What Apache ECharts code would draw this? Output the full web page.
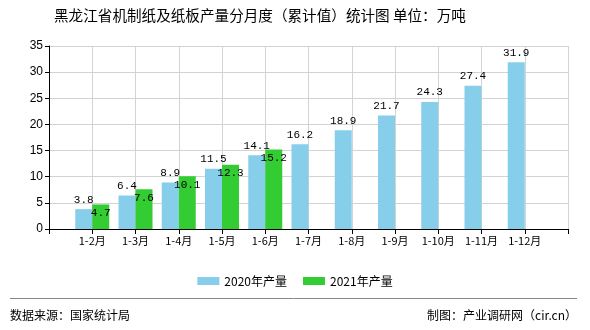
<!DOCTYPE html>
<html><head><meta charset="utf-8">
<script src="https://cdn.jsdelivr.net/npm/echarts@6/dist/echarts.min.js"></script>
<style>html,body{margin:0;padding:0;background:#fff}#c{width:590px;height:330px}</style>
</head><body><div id="c"></div>
<script>
var categories = ['', '1-2月', '1-3月', '1-4月', '1-5月', '1-6月', '1-7月', '1-8月', '1-9月', '1-10月', '1-11月', '1-12月', ''];
var values2020 = ['-', 3.8, 6.4, 8.9, 11.5, 14.1, 16.2, 18.9, 21.7, 24.3, 27.4, 31.9, '-'];
var values2021 = ['-', 4.7, 7.6, 10.1, 12.3, 15.2, '-', '-', '-', '-', '-', '-', '-'];
var seriesNames = ['2020年产量', '2021年产量'];
var titleText = '黑龙江省机制纸及纸板产量分月度（累计值）统计图 单位：万吨';
var sourceText = '数据来源：国家统计局';
var creditText = '制图：产业调研网（cir.cn）';

var chart = echarts.init(document.getElementById('c'), null, {renderer: 'canvas'});
var cjk = '"Noto Sans CJK SC", sans-serif';
var mono = '"Liberation Mono", monospace';
chart.setOption({
  animation: false,
  backgroundColor: '#fff',
  title: {text: titleText, left: 54, top: 8, padding: 0,
    textStyle: {fontFamily: cjk, fontSize: 14.6, fontWeight: 'normal', color: '#000'}},
  legend: {data: seriesNames, top: 270, left: 'center', itemWidth: 22, itemHeight: 8, itemGap: 16,
    icon: 'rect', textStyle: {fontFamily: cjk, fontSize: 12, color: '#000'}},
  grid: {left: 49, right: 22, top: 46, bottom: 101, containLabel: false},
  xAxis: {type: 'category', data: categories, boundaryGap: false,
    axisLine: {lineStyle: {color: '#000', width: 1}},
    axisTick: {show: true, length: 5, lineStyle: {color: '#000'}},
    axisLabel: {fontFamily: cjk, fontSize: 11, color: '#000', margin: 6, interval: 0},
    splitLine: {show: true, lineStyle: {color: '#d3d3d3'}}},
  yAxis: {type: 'value', min: 0, max: 35, interval: 5,
    axisLine: {show: true, lineStyle: {color: '#000'}},
    axisTick: {show: true, length: 4, lineStyle: {color: '#000'}},
    axisLabel: {fontFamily: '"Liberation Sans", sans-serif', fontSize: 12, color: '#000', margin: 6},
    splitLine: {show: true, lineStyle: {color: '#d3d3d3'}}},
  series: [
    {name: seriesNames[0], type: 'bar', data: values2020, barWidth: 17, barGap: '0%',
     itemStyle: {color: '#87CEEB'},
     label: {show: true, position: 'top', distance: 4, fontFamily: mono, fontSize: 11, color: '#000'}},
    {name: seriesNames[1], type: 'bar', data: values2021, barWidth: 17, barGap: '0%',
     itemStyle: {color: '#33CC33'},
     label: {show: true, position: 'insideTop', distance: 3, fontFamily: mono, fontSize: 11, color: '#000'}}
  ],
  graphic: [
    {type: 'line', shape: {x1: 10, y1: 298.5, x2: 577, y2: 298.5}, style: {stroke: '#888', lineWidth: 1}},
    {type: 'text', left: 10, top: 309, style: {text: sourceText, font: '12px ' + cjk, fill: '#000'}},
    {type: 'text', right: 13, top: 309, style: {text: creditText, font: '12px ' + cjk, fill: '#000'}}
  ]
});
</script></body></html>
